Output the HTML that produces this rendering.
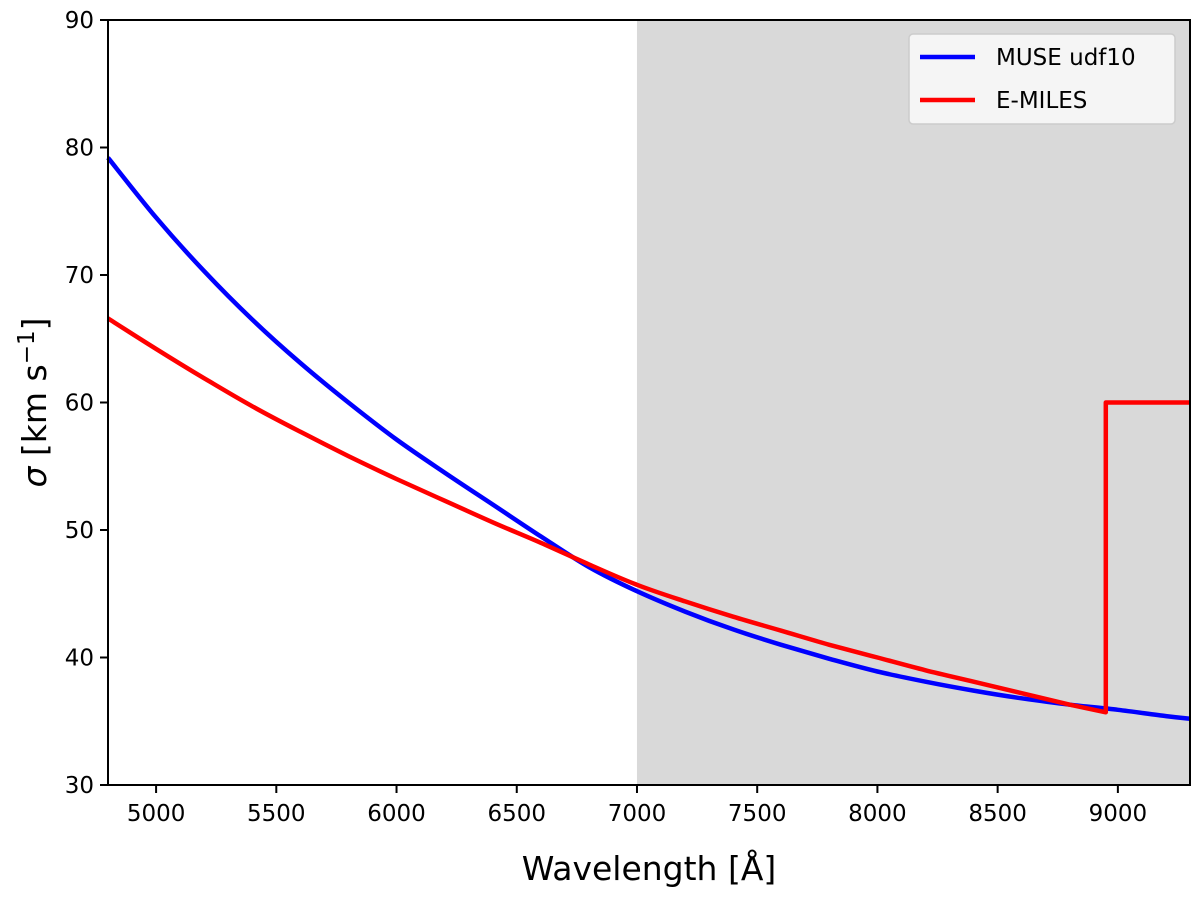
<!DOCTYPE html>
<html><head><meta charset="utf-8"><style>
body{margin:0;background:#fff;}
svg text{font-family:"DejaVu Sans","Liberation Sans",sans-serif;fill:#000;}
</style></head><body>
<svg id="chart" width="1200" height="895" viewBox="0 0 1200 895">
<g id="plot"></g>
</svg>
<script>
const xRange=[4800,9300], yRange=[30,90];
const xTicks=[5000,5500,6000,6500,7000,7500,8000,8500,9000];
const yTicks=[30,40,50,60,70,80,90];
const shadeStart=7000;
const museWave=[4800,5000,5200,5400,5600,5800,6000,6200,6400,6600,6800,7000,7200,7400,7600,7800,8000,8200,8400,8600,8800,9000,9200,9300];
const museSigma=[79.2,74.5,70.3,66.5,63.1,60.0,57.1,54.5,52.0,49.5,47.1,45.2,43.6,42.2,41.0,39.9,38.9,38.1,37.4,36.8,36.3,35.9,35.4,35.2];
const milesWave=[4800,5000,5200,5400,5600,5800,6000,6200,6400,6600,6800,7000,7200,7400,7600,7800,8000,8200,8400,8600,8800,8950,8950,9300];
const milesSigma=[66.6,64.2,61.9,59.7,57.7,55.8,54.0,52.3,50.6,49.0,47.3,45.7,44.4,43.2,42.1,41.0,40.0,39.0,38.1,37.2,36.3,35.7,60,60];
const L=108,R=1190,T=20,B=785;
const X=v=>L+(v-xRange[0])/(xRange[1]-xRange[0])*(R-L);
const Y=v=>B-(v-yRange[0])/(yRange[1]-yRange[0])*(B-T);
const NS="http://www.w3.org/2000/svg";
const g=document.getElementById('plot');
function mk(t,a,p){const e=document.createElementNS(NS,t);for(const k in a)e.setAttribute(k,a[k]);(p||g).appendChild(e);return e;}
const sh=mk('rect',{x:X(shadeStart),y:T,width:R-X(shadeStart),height:B-T,fill:'#d9d9d9'});


function line(xs,ys,c,name){
 let d='M'+X(xs[0]).toFixed(1)+','+Y(ys[0]).toFixed(1);
 for(let i=1;i<xs.length;i++){
  if(xs[i]===xs[i-1]||(i+1<xs.length&&xs[i+1]===xs[i])||i===xs.length-1&&xs[i-1]===xs[i-2]){d+=' L'+X(xs[i]).toFixed(1)+','+Y(ys[i]).toFixed(1);continue;}
  const x0=X(xs[i-1]),y0=Y(ys[i-1]),x1=X(xs[i]),y1=Y(ys[i]);
  const xp=i>1&&xs[i-2]!==xs[i-1]?X(xs[i-2]):x0, yp=i>1&&xs[i-2]!==xs[i-1]?Y(ys[i-2]):y0;
  const xn=i+1<xs.length?X(xs[i+1]):x1, yn=i+1<xs.length?Y(ys[i+1]):y1;
  const c1x=x0+(x1-xp)/6,c1y=y0+(y1-yp)/6,c2x=x1-(xn-x0)/6,c2y=y1-(yn-y0)/6;
  d+=' C'+c1x.toFixed(1)+','+c1y.toFixed(1)+' '+c2x.toFixed(1)+','+c2y.toFixed(1)+' '+x1.toFixed(1)+','+y1.toFixed(1);
 }
 const p=mk('path',{d:d,fill:'none',stroke:c,'stroke-width':4.5,'stroke-linejoin':'round'});
 
 
}
line(museWave,museSigma,'#0000ff','muse-udf10-line');
line(milesWave,milesSigma,'#ff0000','e-miles-line');
const fr=mk('rect',{x:L,y:T,width:R-L,height:B-T,fill:'none',stroke:'#000','stroke-width':2});


xTicks.forEach(v=>{
 mk('line',{x1:X(v),x2:X(v),y1:B,y2:B+8,stroke:'#000','stroke-width':2});
 const t=mk('text',{x:X(v),y:B+36,'text-anchor':'middle','font-size':23});t.textContent=v;
 
 
});
yTicks.forEach(v=>{
 mk('line',{x1:L-8,x2:L,y1:Y(v),y2:Y(v),stroke:'#000','stroke-width':2});
 const t=mk('text',{x:L-14,y:Y(v)+8,'text-anchor':'end','font-size':23});t.textContent=v;
 
 
});
const xl=mk('text',{x:(L+R)/2,y:880,'text-anchor':'middle','font-size':33});xl.textContent='Wavelength [Å]';


const yl=mk('text',{x:0,y:0,'text-anchor':'middle','font-size':33,transform:'translate(46,'+((T+B)/2)+') rotate(-90)'});
yl.innerHTML='<tspan font-style="italic">σ</tspan> [km s<tspan dy="-12" font-size="23">−1</tspan><tspan dy="12">]</tspan>';


const lg=mk('g',{});


mk('rect',{x:909,y:34,width:266,height:90,rx:4,fill:'#f5f5f5',stroke:'#ccc','stroke-width':1.5},lg);
[['MUSE udf10','#0000ff',57],['E-MILES','#ff0000',100]].forEach(([n,c,y])=>{
 const e=mk('g',{},lg);
 
 
 mk('line',{x1:920,x2:975,y1:y,y2:y,stroke:c,'stroke-width':4.5},e);
 const t=mk('text',{x:996,y:y+8,'font-size':23},e);t.textContent=n;
});
</script>
</body></html>
